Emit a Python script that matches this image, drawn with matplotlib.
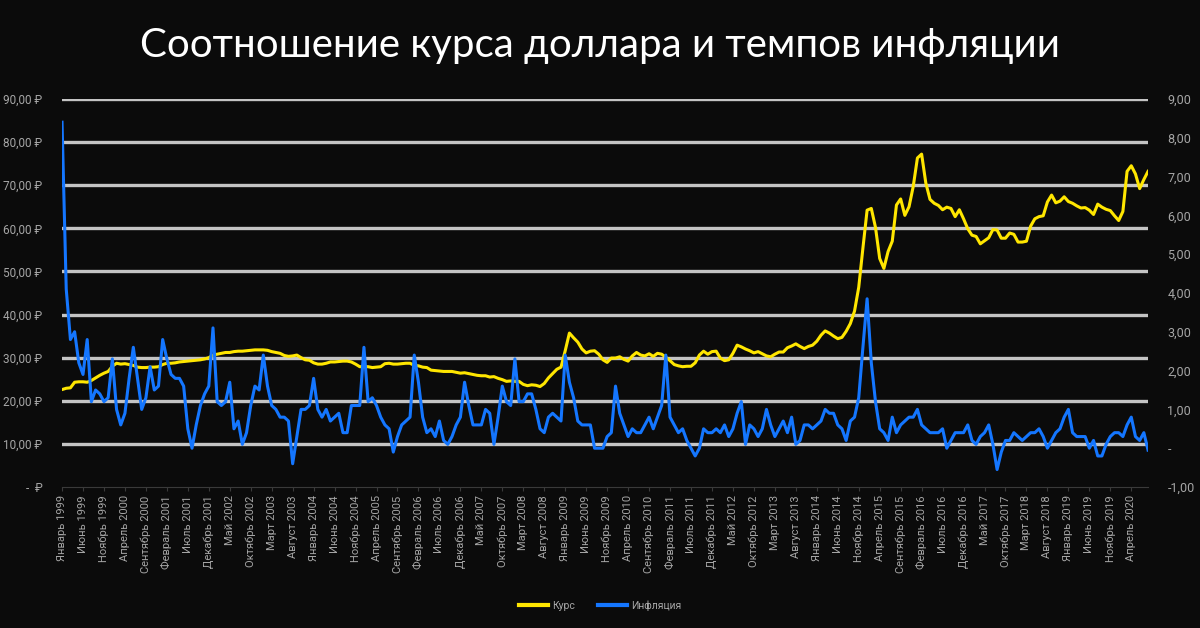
import matplotlib
matplotlib.use("Agg")
import matplotlib.pyplot as plt
import numpy as np

plt.rcParams["font.family"] = ["Roboto", "DejaVu Sans"]

# Monthly average USD/RUB, Jan 1999 .. Aug 2020 (one row per year)
usd_rate = [
    22.6, 22.9, 23.0, 24.3, 24.4, 24.4, 24.3, 24.7, 25.3, 25.9, 26.4, 26.8,
    28.0, 28.7, 28.5, 28.6, 28.4, 28.2, 27.8, 27.7, 27.7, 27.8, 27.8, 27.9,
    28.4, 28.7, 28.7, 28.8, 29.0, 29.1, 29.2, 29.3, 29.4, 29.5, 29.7, 30.0,
    30.6, 30.8, 31.0, 31.2, 31.2, 31.4, 31.5, 31.5, 31.6, 31.7, 31.8, 31.8,
    31.8, 31.7, 31.4, 31.2, 31.0, 30.5, 30.3, 30.4, 30.6, 30.0, 29.5, 29.4,
    28.8, 28.5, 28.5, 28.7, 29.0, 29.0, 29.1, 29.2, 29.2, 29.0, 28.5, 27.9,
    27.9, 27.9, 27.7, 27.8, 27.9, 28.6, 28.7, 28.5, 28.5, 28.6, 28.7, 28.7,
    28.2, 28.1, 27.8, 27.7, 27.1, 27.0, 26.9, 26.8, 26.8, 26.8, 26.6, 26.4,
    26.5, 26.3, 26.1, 25.9, 25.8, 25.8, 25.5, 25.6, 25.2, 24.9, 24.5, 24.6,
    24.5, 24.5, 23.8, 23.5, 23.7, 23.6, 23.3, 24.0, 25.3, 26.3, 27.3, 27.8,
    31.6, 35.7, 34.6, 33.6, 32.0, 31.1, 31.5, 31.6, 30.8, 29.5, 28.9, 29.9,
    29.9, 30.2, 29.6, 29.2, 30.4, 31.2, 30.6, 30.4, 30.9, 30.3, 31.0, 30.8,
    30.1, 29.3, 28.4, 28.1, 27.9, 28.0, 28.0, 28.8, 30.6, 31.5, 30.8, 31.4,
    31.5, 29.9, 29.3, 29.5, 31.0, 32.9, 32.5, 32.0, 31.6, 31.1, 31.4, 30.9,
    30.4, 30.2, 30.8, 31.3, 31.3, 32.3, 32.7, 33.2, 32.6, 32.1, 32.6, 32.9,
    33.8, 35.2, 36.2, 35.7, 35.0, 34.4, 34.7, 36.1, 37.9, 40.8, 46.3, 55.4,
    64.2, 64.6, 60.2, 53.0, 50.7, 54.6, 57.0, 65.4, 66.8, 63.0, 65.0, 69.7,
    76.3, 77.2, 70.5, 66.7, 65.8, 65.3, 64.3, 64.9, 64.6, 62.7, 64.3, 62.2,
    59.9, 58.4, 58.1, 56.4, 57.1, 57.8, 59.7, 59.6, 57.7, 57.7, 58.9, 58.6,
    56.8, 56.8, 57.0, 60.5, 62.2, 62.7, 62.9, 66.1, 67.7, 65.9, 66.3, 67.3,
    66.2, 65.8, 65.2, 64.7, 64.8, 64.2, 63.2, 65.6, 64.9, 64.4, 64.1, 62.9,
    61.8, 63.9, 73.2, 74.5, 72.6, 69.2, 71.3, 73.2,
]

# Monthly inflation, % (one row per year)
inflation = [
    8.4, 4.1, 2.8, 3.0, 2.2, 1.9, 2.8, 1.2, 1.5, 1.4, 1.2, 1.3,
    2.3, 1.0, 0.6, 0.9, 1.8, 2.6, 1.8, 1.0, 1.3, 2.1, 1.5, 1.6,
    2.8, 2.3, 1.9, 1.8, 1.8, 1.6, 0.5, 0.0, 0.6, 1.1, 1.4, 1.6,
    3.1, 1.2, 1.1, 1.2, 1.7, 0.5, 0.7, 0.1, 0.4, 1.1, 1.6, 1.5,
    2.4, 1.6, 1.1, 1.0, 0.8, 0.8, 0.7, -0.4, 0.3, 1.0, 1.0, 1.1,
    1.8, 1.0, 0.8, 1.0, 0.7, 0.8, 0.9, 0.4, 0.4, 1.1, 1.1, 1.1,
    2.6, 1.2, 1.3, 1.1, 0.8, 0.6, 0.5, -0.1, 0.3, 0.6, 0.7, 0.8,
    2.4, 1.7, 0.8, 0.4, 0.5, 0.3, 0.7, 0.2, 0.1, 0.3, 0.6, 0.8,
    1.7, 1.1, 0.6, 0.6, 0.6, 1.0, 0.9, 0.1, 0.8, 1.6, 1.2, 1.1,
    2.3, 1.2, 1.2, 1.4, 1.4, 1.0, 0.5, 0.4, 0.8, 0.9, 0.8, 0.7,
    2.4, 1.7, 1.3, 0.7, 0.6, 0.6, 0.6, 0.0, 0.0, 0.0, 0.3, 0.4,
    1.6, 0.9, 0.6, 0.3, 0.5, 0.4, 0.4, 0.6, 0.8, 0.5, 0.8, 1.1,
    2.4, 0.8, 0.6, 0.4, 0.5, 0.2, 0.0, -0.2, 0.0, 0.5, 0.4, 0.4,
    0.5, 0.4, 0.6, 0.3, 0.5, 0.9, 1.2, 0.1, 0.6, 0.5, 0.3, 0.5,
    1.0, 0.6, 0.3, 0.5, 0.7, 0.4, 0.8, 0.1, 0.2, 0.6, 0.6, 0.5,
    0.6, 0.7, 1.0, 0.9, 0.9, 0.6, 0.5, 0.2, 0.7, 0.8, 1.3, 2.6,
    3.85, 2.2, 1.2, 0.5, 0.4, 0.2, 0.8, 0.4, 0.6, 0.7, 0.8, 0.8,
    1.0, 0.6, 0.5, 0.4, 0.4, 0.4, 0.5, 0.0, 0.2, 0.4, 0.4, 0.4,
    0.6, 0.2, 0.1, 0.3, 0.4, 0.6, 0.1, -0.55, -0.1, 0.2, 0.2, 0.4,
    0.3, 0.2, 0.3, 0.4, 0.4, 0.5, 0.3, 0.0, 0.2, 0.4, 0.5, 0.8,
    1.0, 0.4, 0.3, 0.3, 0.3, 0.0, 0.2, -0.2, -0.2, 0.1, 0.3, 0.4,
    0.4, 0.3, 0.6, 0.8, 0.3, 0.2, 0.4, -0.05,
]

month_names = ["Январь", "Февраль", "Март", "Апрель", "Май", "Июнь",
               "Июль", "Август", "Сентябрь", "Октябрь", "Ноябрь", "Декабрь"]
start_year = 1999
label_step = 5

left_ticks = [0, 10, 20, 30, 40, 50, 60, 70, 80, 90]
left_labels = ["-  ₽"] + [f"{v},00 ₽" for v in left_ticks[1:]]
right_ticks = [-1, 0, 1, 2, 3, 4, 5, 6, 7, 8, 9]
right_labels = ["-1,00", "-"] + [f"{v},00" for v in right_ticks[2:]]

bg = "#0b0b0b"
txt = "#a6a6a6"
yellow = "#ffe600"
blue = "#1476ff"

x = np.arange(len(usd_rate))
tick_pos = np.arange(0, len(usd_rate) - 3, label_step)
tick_lab = [f"{month_names[m % 12]} {start_year + m // 12}" for m in tick_pos]

fig = plt.figure(figsize=(12, 6.28), dpi=100, facecolor=bg)
ax = fig.add_axes([0.0517, 0.2245, 0.905, 0.618], facecolor=bg)
ax2 = ax.twinx()

for v in left_ticks[1:]:
    ax.axhline(v, color="#c4c4c4", lw=2.4, zorder=1)

ax.plot(x, usd_rate, color=yellow, lw=2.2, zorder=3, label="Курс")
ax2.plot(x, inflation, color=blue, lw=2.2, zorder=3, label="Инфляция")

ax.set_xlim(0, len(usd_rate) - 1)
ax.set_ylim(0, 90)
ax2.set_ylim(-1, 9)
ax.set_yticks(left_ticks)
ax.set_yticklabels(left_labels)
ax2.set_yticks(right_ticks)
ax2.set_yticklabels(right_labels)
ax.set_xticks(tick_pos)
ax.set_xticklabels(tick_lab, rotation=90, va="top", ha="center")

for a in (ax, ax2):
    for s in a.spines.values():
        s.set_visible(False)
    a.tick_params(colors=txt, labelsize=8.5, length=0)
ax.spines["bottom"].set_visible(True)
ax.spines["bottom"].set_color("#3a3a3a")
ax.tick_params(axis="x", length=3, color="#3a3a3a", labelsize=8, pad=3)
ax.tick_params(axis="y", pad=14)
ax2.tick_params(axis="y", pad=14, labelsize=9)

h1, l1 = ax.get_legend_handles_labels()
h2, l2 = ax2.get_legend_handles_labels()
leg = fig.legend(h1 + h2, l1 + l2, loc="center", bbox_to_anchor=(0.5, 0.036),
                 ncol=2, frameon=False, fontsize=7.5, labelcolor=txt,
                 handlelength=2.8, columnspacing=2.2, handletextpad=0.4)
for line in leg.get_lines():
    line.set_linewidth(3)

fig.text(0.5, 0.928, "Соотношение курса доллара и темпов инфляции",
         ha="center", va="center", color="white", fontsize=29,
         family=["Lato", "DejaVu Sans"])

fig.savefig("out.png", dpi=100, facecolor=bg)
